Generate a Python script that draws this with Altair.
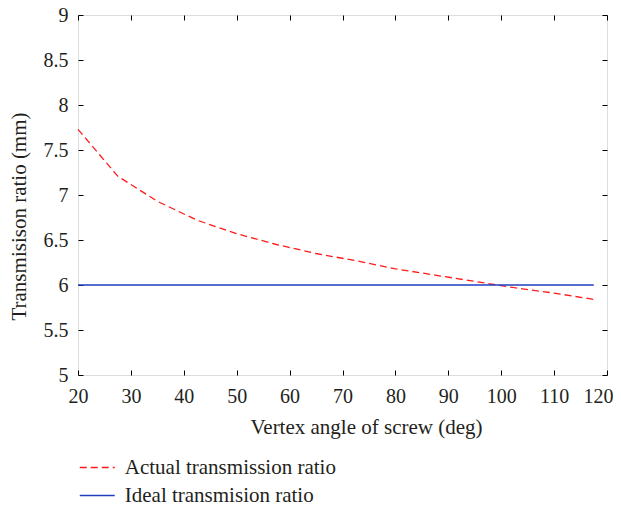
import altair as alt
import pandas as pd

angles = [20, 27.5, 35, 42.5, 50, 57.5, 65, 72.5, 80, 87.5, 95, 102.5, 110, 117.5]
actual = [7.73, 7.21, 6.93, 6.72, 6.57, 6.45, 6.35, 6.27, 6.18, 6.11, 6.04, 5.97, 5.91, 5.84]
ideal = [6.0] * len(angles)
series_names = ["Actual transmission ratio", "Ideal transmision ratio"]
x_ticks = [20, 30, 40, 50, 60, 70, 80, 90, 100, 110, 120]
y_ticks = [5, 5.5, 6, 6.5, 7, 7.5, 8, 8.5, 9]

rows = []
for a, v in zip(angles, actual):
    rows.append({"angle": a, "ratio": v, "series": series_names[0]})
for a, v in zip(angles, ideal):
    rows.append({"angle": a, "ratio": v, "series": series_names[1]})
df = pd.DataFrame(rows)

W, H = 529, 360
FONT = "Liberation Serif"
FS = 20
TFS = 21
TXT = "#231f20"

xs = alt.Scale(domain=[20, 120], nice=False)
ys = alt.Scale(domain=[5, 9], nice=False)

base = alt.Chart(df)

legend_opts = dict(
    orient="none", legendX=8.75, legendY=442, title=None,
    direction="vertical",
    symbolType="M-2,0H2", symbolSize=306, symbolStrokeWidth=1.5,
    labelOffset=17, rowPadding=6, padding=0, labelLimit=1000,
    labelFont=FONT, labelFontSize=TFS, labelColor=TXT)

main = base.mark_line(strokeWidth=1.3).encode(
    x=alt.X("angle:Q", scale=xs, axis=alt.Axis(
        orient="bottom", values=x_ticks, ticks=False, domain=False, grid=False,
        labelFlush=False, labelOverlap=False,
        labelOffset={"condition": {"test": "datum.value == 120", "value": -9}, "value": 0},
        labelPadding=11, title="Vertex angle of screw (deg)", titlePadding=10,
        titleX=288,
        labelFont=FONT, titleFont=FONT, labelFontSize=FS, titleFontSize=TFS,
        labelColor=TXT, titleColor=TXT, titleFontWeight="normal")),
    y=alt.Y("ratio:Q", scale=ys, axis=alt.Axis(
        orient="left", values=y_ticks, ticks=False, domain=False, grid=False,
        labelFlush=False, labelOverlap=False,
        format=".1~f", labelPadding=10, title="Transmisison ratio (mm)", titlePadding=14,
        titleY=201,
        labelFont=FONT, titleFont=FONT, labelFontSize=FS, titleFontSize=TFS,
        labelColor=TXT, titleColor=TXT, titleFontWeight="normal")),
    color=alt.Color("series:N", scale=alt.Scale(domain=series_names, range=["#ff1a1a", "#1f3fbf"]),
                    legend=alt.Legend(**legend_opts)),
    strokeDash=alt.StrokeDash("series:N", scale=alt.Scale(domain=series_names, range=[[7, 4], [1, 0]]),
                              legend=alt.Legend(**legend_opts)),
)

tick_axis = dict(ticks=True, tickSize=5, tickColor="black", tickWidth=1, labels=False,
                 domain=False, grid=False, title="")

inner1 = base.mark_line(opacity=0).encode(
    x=alt.X("angle:Q", scale=xs, axis=alt.Axis(orient="top", offset=-H, values=x_ticks, **tick_axis)),
    y=alt.Y("ratio:Q", scale=ys, axis=alt.Axis(orient="right", offset=-W, values=y_ticks, **tick_axis)),
)
inner2 = base.mark_line(opacity=0).encode(
    x=alt.X("angle:Q", scale=xs, axis=alt.Axis(orient="bottom", offset=-H, values=x_ticks, **tick_axis)),
    y=alt.Y("ratio:Q", scale=ys, axis=alt.Axis(orient="left", offset=-W, values=y_ticks, **tick_axis)),
)

chart = alt.layer(main, inner1, inner2).resolve_axis(x="independent", y="independent").properties(
    width=W, height=H,
    autosize=alt.AutoSizeParams(type="none"),
    padding={"left": 70, "top": 7, "right": 6, "bottom": 128},
).configure_view(stroke="black", strokeWidth=1.5).configure(background="white")

chart.save("out.html", embed_options={"renderer": "svg", "actions": False})
